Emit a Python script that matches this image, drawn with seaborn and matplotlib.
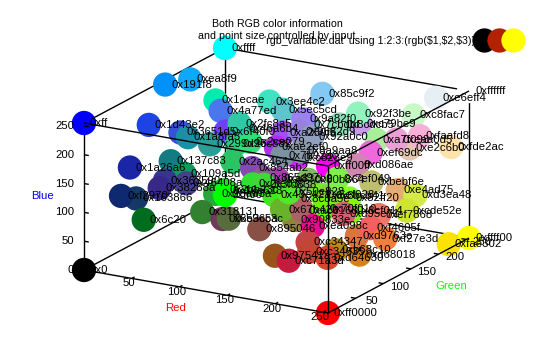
import matplotlib
matplotlib.use("Agg")
import matplotlib.pyplot as plt
from matplotlib.legend_handler import HandlerTuple
from matplotlib.lines import Line2D
import pandas as pd
import seaborn as sns

# colour of each point, also its position (r, g, b), back to front
point_labels = [
    "0x0", "0xff", "0xffff", "0xffffff", "0xff0000", "0xffff00", "0xff00ff",
    "0xea8f9", "0x191f8", "0x1ecae", "0x4a77ed", "0x85c9f2", "0x3ee4c2", "0x5ec5cd",
    "0xe6eff4", "0xc8fac7", "0xc79be9", "0x8cdcb5", "0x92f3be", "0x7cbdbf",
    "0xfde2ac", "0xe2c6b0", "0xfaafd8", "0xa7f098", "0xeaa0d5", "0xef69dc",
    "0x1d43e2", "0x6f40f0", "0x3651d5", "0x46a6b4", "0x1a8fa5", "0x299d96",
    "0xa250f5", "0x9a82f0", "0x9682d9", "0xae2ef0", "0xc828e9", "0x2cc882",
    "0x2ce079", "0x92a0c0", "0x8a9aa8", "0x7b92a0", "0x2fc8a5",
    "0x1a26a6", "0x137c83", "0x109a5d", "0x163866", "0xf2970", "0x363590",
    "0x38288a", "0x46408a", "0x6c20", "0x2ac464", "0x854ab2", "0xa83cb0", "0x865d97",
    "0xd086ae", "0x28a83a", "0x2bb23c", "0x10e618", "0xff00", "0x2fe030",
    "0x3fd838", "0x43e421", "0x318131", "0x6e3c5a", "0x596c3c", "0x895046",
    "0x8c8a5e", "0x90833e", "0x67b42b", "0xac6168", "0x80b864", "0x50e828", "0x6ef028",
    "0x8bcb41", "0x7ef049", "0x82ff20", "0x70f010", "0x8cf014", "0xbebf6e", "0xe4ad75",
    "0xd3ea48", "0xcde52e", "0xd95e71", "0xef7868", "0xea098c", "0xc34347", "0x97541a",
    "0xc71a3d", "0xc34635", "0xb68c10", "0xd64630", "0xd68018", "0xd9763e",
    "0xf4605f", "0xf27e3d", "0xfae302",
]

axis_ticks = [50, 100, 150, 200, 250]
z_ticks = [0, 50, 100, 150, 200, 250]
key_colors = ["#000000", "#b22200", "#ffff00"]

title_text = "Both RGB color information\nand point size controlled by input"
key_text = r"'rgb_variable.dat' using 1:2:3:(rgb(\$1,\$2,\$3))"

MAX = 255
FONT = 8.2
TITLE_FONT = 7.7


def project(r, g, b):
    # gnuplot style oblique view, result is in image pixels
    x = 84 + r * 244 / MAX + g * 141 / MAX
    y = 270 + r * 43 / MAX - g * 75 / MAX - b * 147 / MAX
    return x, y


def edge(ax, a, b, zorder):
    xa, ya = project(*a)
    xb, yb = project(*b)
    ax.plot([xa, xb], [ya, yb], color="black", lw=1, zorder=zorder, solid_capstyle="butt")


sns.set_style("white")
plt.rcParams["font.family"] = ["Liberation Sans", "DejaVu Sans"]
plt.rcParams["text.color"] = "black"

df = pd.DataFrame({"label": point_labels})
df["value"] = df["label"].apply(lambda s: int(s, 16))
df["red"] = df["value"] // 65536
df["green"] = (df["value"] // 256) % 256
df["blue"] = df["value"] % 256
df["sx"], df["sy"] = project(df["red"], df["green"], df["blue"])
palette = {row.label: "#%06x" % row.value for row in df.itertuples()}

fig = plt.figure(figsize=(5.4, 3.6), dpi=100)
ax = fig.add_axes([0, 0, 1, 1])

# these edges go under the points
back = [
    ((0, 0, 0), (0, MAX, 0)), ((0, MAX, 0), (MAX, MAX, 0)), ((0, MAX, 0), (0, MAX, MAX)),
    ((0, 0, MAX), (0, MAX, MAX)), ((0, MAX, MAX), (MAX, MAX, MAX)),
    ((0, 0, 0), (0, 0, MAX)), ((MAX, MAX, 0), (MAX, MAX, MAX)),
]
for a, b in back:
    edge(ax, a, b, 1)

sns.scatterplot(data=df, x="sx", y="sy", hue="label", palette=palette, s=306,
                linewidth=0, legend=False, ax=ax, zorder=2)
ax.set_xlim(0, 540)
ax.set_ylim(360, 0)
ax.axis("off")

# and these over them
front = [
    ((0, 0, 0), (MAX, 0, 0)), ((MAX, 0, 0), (MAX, MAX, 0)), ((MAX, 0, 0), (MAX, 0, MAX)),
    ((0, 0, MAX), (MAX, 0, MAX)), ((MAX, 0, MAX), (MAX, MAX, MAX)),
]
for a, b in front:
    edge(ax, a, b, 3)

# ticks and their labels
for t in axis_ticks:
    edge(ax, (t, 0, 0), (t, 5, 0), 3)
    edge(ax, (MAX, t, 0), (MAX - 5, t, 0), 3)
    x, y = project(t, 0, 0)
    ax.text(x - 3, y + 5, str(t), ha="center", va="center", fontsize=FONT, zorder=5)
    x, y = project(MAX, t, 0)
    ax.text(x + 16, y + 3, str(t), ha="center", va="center", fontsize=FONT, zorder=5)
for t in z_ticks:
    edge(ax, (0, 0, t), (5, 0, t), 3)
    x, y = project(0, 0, t)
    ax.text(x - 10, y, str(t), ha="right", va="center", fontsize=FONT, zorder=5)

for row in df.itertuples():
    ax.text(row.sx + 6, row.sy, row.label, ha="left", va="center", fontsize=FONT, zorder=6)

ax.text(176, 308, "Red", color="#ff0000", ha="center", va="center", fontsize=FONT)
ax.text(451, 286, "Green", color="#00ff00", ha="center", va="center", fontsize=FONT)
ax.text(42, 196, "Blue", color="#0000ff", ha="center", va="center", fontsize=FONT)
ax.text(277, 30, title_text, ha="center", va="center", fontsize=TITLE_FONT, linespacing=1.3, zorder=7)

key_points = tuple(Line2D([], [], ls="", marker="o", ms=17.5, mew=0, color=c) for c in key_colors)
legend = ax.legend([key_points], [key_text], loc="center right", bbox_to_anchor=(520 / 540, 1 - 41 / 360),
                   handler_map={tuple: HandlerTuple(ndivide=None, pad=0)}, frameon=False,
                   markerfirst=False, fontsize=TITLE_FONT, handlelength=4.0, handletextpad=0.2,
                   borderpad=0, borderaxespad=0)
legend.set_zorder(7)

fig.savefig("out.png", dpi=100)
